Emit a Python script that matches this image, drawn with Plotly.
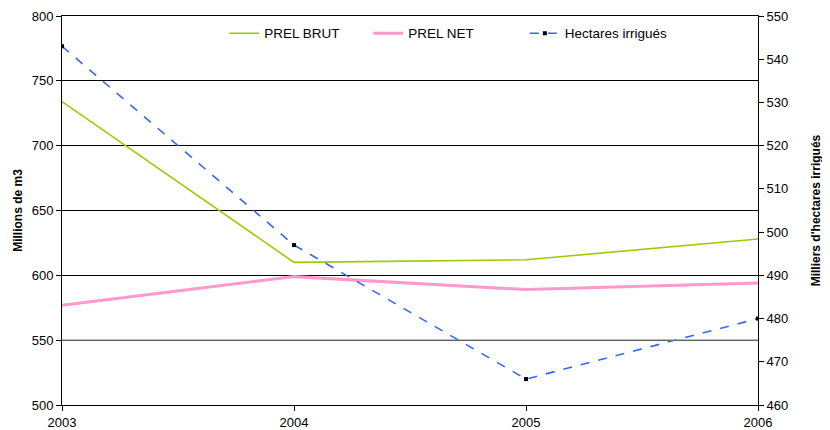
import plotly.graph_objects as go

years = [2003, 2004, 2005, 2006]
prel_brut = [734, 610, 612, 628]
prel_net = [577, 599, 589, 594]
hectares = [543, 497, 466, 480]

left_ticks = [500, 550, 600, 650, 700, 750, 800]
right_ticks = [460, 470, 480, 490, 500, 510, 520, 530, 540, 550]

fig = go.Figure()

fig.add_trace(go.Scatter(
    x=years, y=prel_brut, mode="lines", name="PREL BRUT",
    line=dict(color="#99CC00", width=1.6), legend="legend",
))
fig.add_trace(go.Scatter(
    x=years, y=prel_net, mode="lines", name="PREL NET",
    line=dict(color="#FF99CC", width=3), legend="legend2",
))
fig.add_trace(go.Scatter(
    x=years, y=hectares, mode="lines+markers", name="Hectares irrigués",
    yaxis="y2", legend="legend3",
    line=dict(color="#3366FF", width=1.6, dash="dash"),
    marker=dict(symbol="square", size=4, color="black"),
))

font = dict(family="Liberation Sans, Arial, sans-serif", size=13, color="black")


def legend_at(x):
    return dict(
        x=x, y=0.995, xanchor="left", yanchor="top",
        font=dict(size=13.5), bgcolor="rgba(0,0,0,0)",
        itemwidth=30,
    )


# page body adds ~8px offset, margins compensate for it
fig.update_layout(
    width=830, height=430,
    margin=dict(l=54, r=80, t=8, b=33, autoexpand=False),
    plot_bgcolor="white", paper_bgcolor="white",
    font=font,
    showlegend=True,
    legend=legend_at(0.233),
    legend2=legend_at(0.440),
    legend3=legend_at(0.665),
    xaxis=dict(
        range=[2003, 2006], tickvals=years, ticks="outside", ticklen=5,
        tickcolor="black", showline=True, linecolor="black", linewidth=1,
        mirror=True, showgrid=False, zeroline=False,
    ),
    yaxis=dict(
        range=[500, 800], tickvals=left_ticks, ticks="outside", ticklen=5,
        tickcolor="black", showline=True, linecolor="black", linewidth=1,
        showgrid=True, gridcolor="black", gridwidth=1, zeroline=False,
        title=dict(text="<b>Millions de m3</b>", font=dict(size=12), standoff=6),
    ),
    yaxis2=dict(
        range=[460, 550], tickvals=right_ticks, overlaying="y", side="right",
        ticks="outside", ticklen=5, tickcolor="black", showline=True,
        linecolor="black", linewidth=1, showgrid=False, zeroline=False,
        title=dict(text="<b>Milliers d'hectares irrigués</b>", font=dict(size=12), standoff=24),
    ),
)

# the 550 gridline is grey in the original
fig.add_hline(y=550, line_color="#808080", line_width=1.2, layer="above")

fig.write_html("out.html")
